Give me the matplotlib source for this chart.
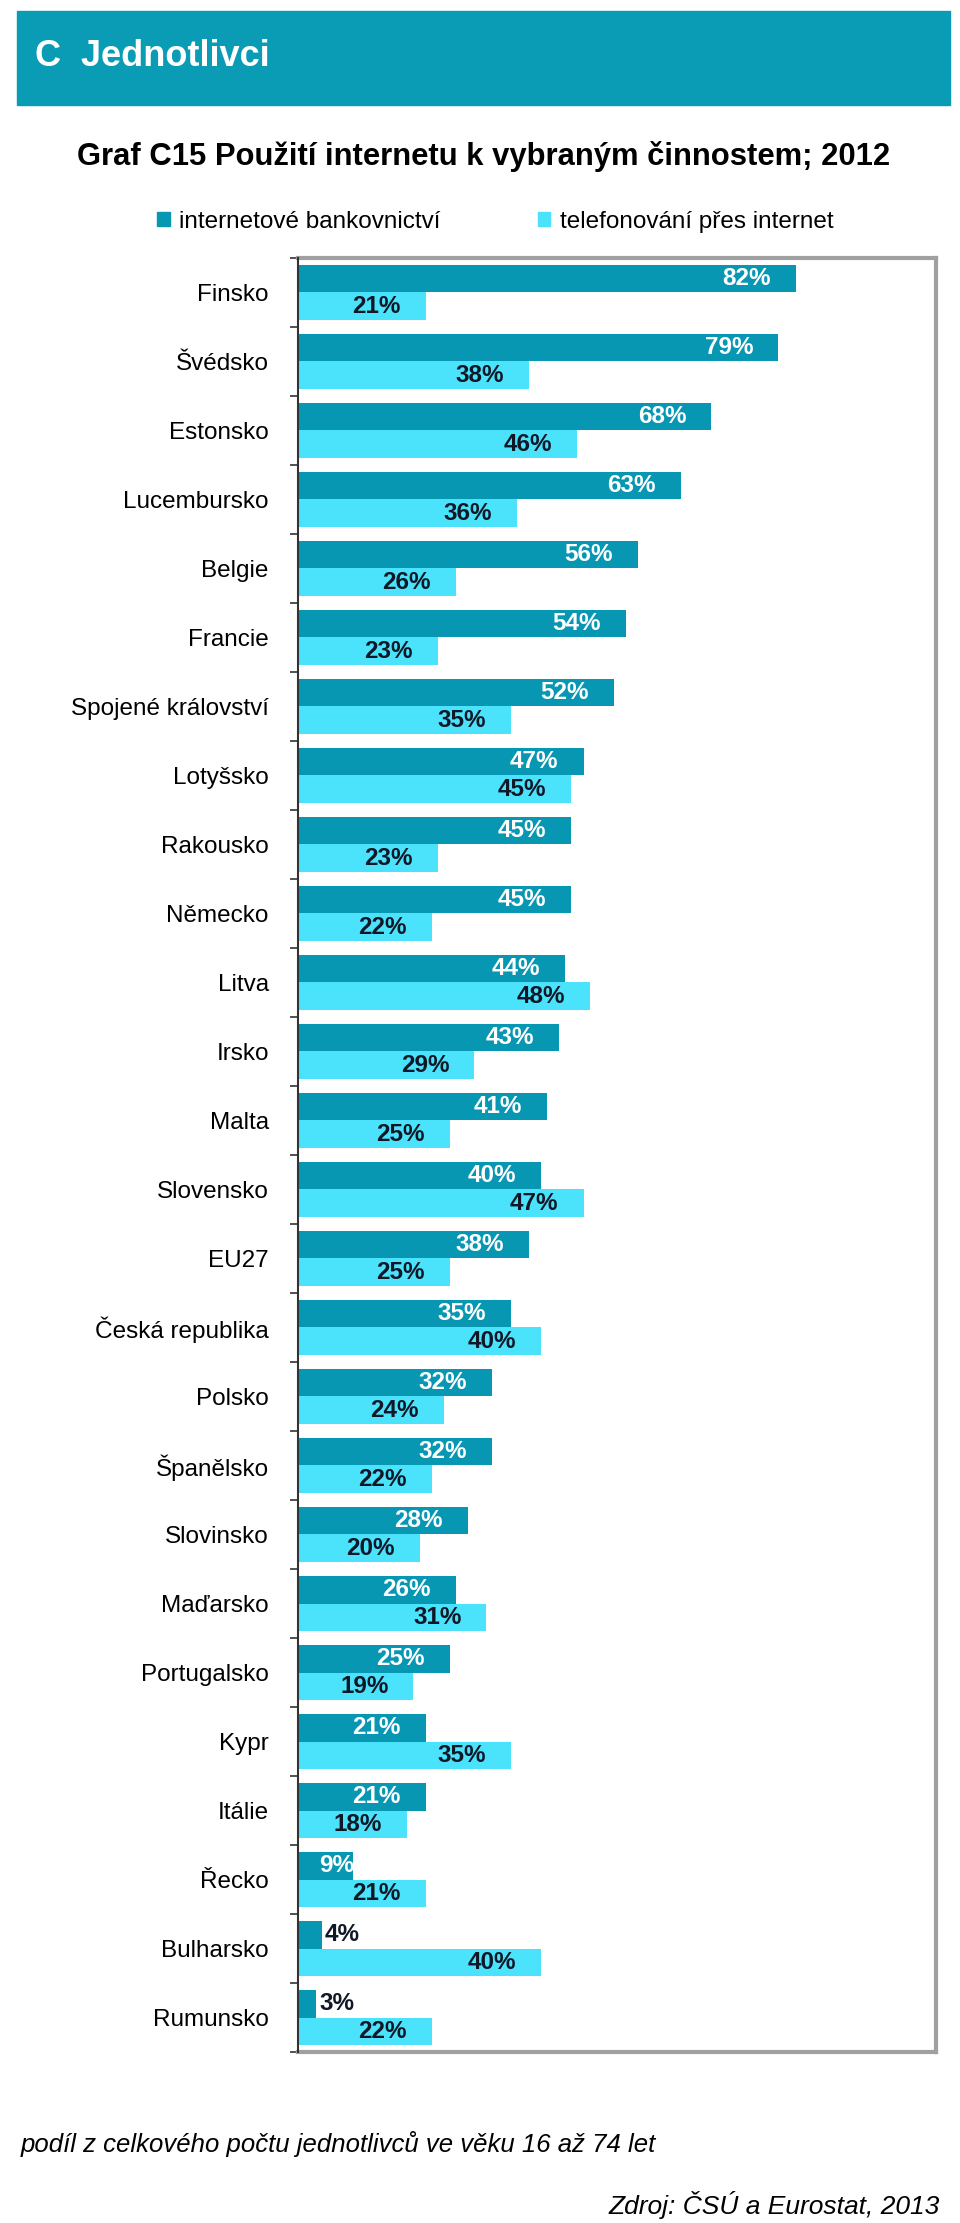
import matplotlib.pyplot as plt
from matplotlib.patches import Rectangle, Patch

plt.rcParams['font.family'] = ['Liberation Sans', 'DejaVu Sans']

countries = ['Finsko', 'Švédsko', 'Estonsko', 'Lucembursko', 'Belgie', 'Francie',
             'Spojené království', 'Lotyšsko', 'Rakousko', 'Německo', 'Litva', 'Irsko',
             'Malta', 'Slovensko', 'EU27', 'Česká republika', 'Polsko', 'Španělsko',
             'Slovinsko', 'Maďarsko', 'Portugalsko', 'Kypr', 'Itálie', 'Řecko',
             'Bulharsko', 'Rumunsko']
banking = [82, 79, 68, 63, 56, 54, 52, 47, 45, 45, 44, 43, 41, 40, 38, 35, 32, 32,
           28, 26, 25, 21, 21, 9, 4, 3]
calling = [21, 38, 46, 36, 26, 23, 35, 45, 23, 22, 48, 29, 25, 47, 25, 40, 24, 22,
           20, 31, 19, 35, 18, 21, 40, 22]
series_names = ['internetové bankovnictví', 'telefonování přes internet']

dark = '#0897b3'
light = '#4be3fb'
label_dark = '#101828'

fig = plt.figure(figsize=(9.6, 22.23), dpi=100)
ax = fig.add_axes([0.3104, 0.0769, 0.6646, 0.8071])

pos = range(len(countries))
bars1 = ax.barh([p - 0.2 for p in pos], banking, height=0.4, color=dark)
bars2 = ax.barh([p + 0.2 for p in pos], calling, height=0.4, color=light)


def put_labels(bars, values, inside_color):
    for b, v in zip(bars, values):
        y = b.get_y() + b.get_height() / 2
        if v < 5:
            # too short, label goes outside
            ax.annotate('%d%%' % v, (v, y), xytext=(2, 0), textcoords='offset points',
                        ha='left', va='center', fontsize=17.5, fontweight='bold',
                        color=label_dark)
        elif v < 10:
            ax.annotate('%d%%' % v, (v, y), xytext=(1, 0), textcoords='offset points',
                        ha='right', va='center', fontsize=17.5, fontweight='bold',
                        color=inside_color)
        else:
            ax.annotate('%d%%' % v, (v, y), xytext=(-18, 0), textcoords='offset points',
                        ha='right', va='center', fontsize=17.5, fontweight='bold',
                        color=inside_color)


put_labels(bars1, banking, 'white')
put_labels(bars2, calling, label_dark)

ax.set_xlim(0, 105)
ax.set_ylim(len(countries) - 0.5, -0.5)
ax.set_xticks([])

# tick marks at category borders, names in the middle
ax.set_yticks([p - 0.5 for p in range(len(countries) + 1)])
ax.set_yticklabels([])
ax.set_yticks(list(pos), minor=True)
ax.set_yticklabels(countries, minor=True, fontsize=17.5)
ax.tick_params(axis='y', which='major', length=6, width=1.2, color='#333333')
ax.tick_params(axis='y', which='minor', length=0, pad=21)

for s in ['top', 'right', 'bottom']:
    ax.spines[s].set_color('#a0a0a0')
    ax.spines[s].set_linewidth(3)
ax.spines['left'].set_color('#333333')
ax.spines['left'].set_linewidth(1.5)
ax.spines['left'].set_zorder(5)

# header band
fig.patches.append(Rectangle((17 / 960, 1 - 105 / 2223), 933 / 960, 94 / 2223,
                             transform=fig.transFigure, color='#0a9cb5', zorder=0))
fig.text(35 / 960, 1 - 57 / 2223, 'C  Jednotlivci', color='white', fontsize=26,
         fontweight='bold', va='center', ha='left')

fig.text(0.504, 1 - 156 / 2223, 'Graf C15 Použití internetu k vybraným činnostem; 2012',
         fontsize=22.3, fontweight='bold', ha='center', va='center')

handles = [Patch(color=dark), Patch(color=light)]
fig.legend(handles, series_names, loc='center', bbox_to_anchor=(0.516, 1 - 222 / 2223),
           ncol=2, frameon=False, fontsize=17.5, handlelength=0.5, handleheight=0.5,
           handletextpad=0.4, columnspacing=4.0)

fig.text(21 / 960, 1 - 2144 / 2223,
         'podíl z celkového počtu jednotlivců ve věku 16 až 74 let',
         fontsize=18.5, style='italic', ha='left', va='center')
fig.text(940 / 960, 1 - 2205 / 2223, 'Zdroj: ČSÚ a Eurostat, 2013',
         fontsize=19, style='italic', ha='right', va='center')

fig.savefig('out.png', dpi=100)
